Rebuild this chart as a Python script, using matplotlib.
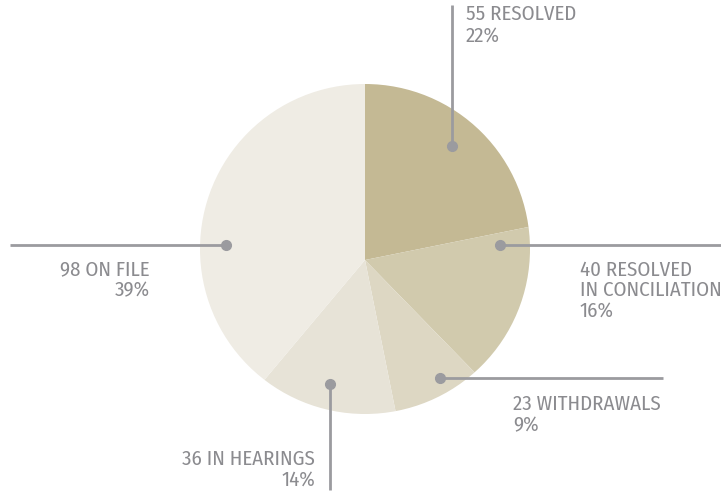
import matplotlib
matplotlib.use("Agg")
import matplotlib.pyplot as plt
from matplotlib.patches import Circle

categories = ["RESOLVED", "RESOLVED\nIN CONCILIATION", "WITHDRAWALS", "IN HEARINGS", "ON FILE"]
values = [55, 40, 23, 36, 98]
colors = ["#C4B994", "#D1CAAD", "#DDD7C3", "#E7E3D7", "#EFECE4"]

W, H = 721, 494
fig = plt.figure(figsize=(W / 100, H / 100), dpi=100)
ax = fig.add_axes([0, 0, 1, 1])

# wedges radiate from an apex slightly below the circle's centre
cx, cy, R = 365, H - 249, 165
apex = (365, H - 260)
wedges, _ = ax.pie(values, colors=colors, startangle=90, counterclock=False,
                   center=apex, radius=R + 30, frame=True,
                   wedgeprops=dict(linewidth=0))
ax.set_xlim(0, W)
ax.set_ylim(0, H)
ax.set_aspect("equal")
ax.axis("off")
clip = Circle((cx, cy), R, transform=ax.transData)
for w in wedges:
    w.set_clip_on(True)
    w.set_clip_path(clip)

fam = ["Fira Sans Condensed", "DejaVu Sans"]
tcol = "#8B8B8F"
lcol = "#9B9B9F"
total = sum(values)

# leader: dot (px), end (px), text anchor (px), ha
leaders = [
    ((452, 146), (452, 5), (466, 5), "left"),
    ((500, 245), (721, 245), (580, 260), "left"),
    ((440, 378), (663, 378), (513, 395), "left"),
    ((330, 384), (330, 490), (315, 449), "right"),
    ((226, 245), (10, 245), (150, 260), "right"),
]

for v, name, (d, e, t, ha) in zip(values, categories, leaders):
    ax.plot([d[0], e[0]], [H - d[1], H - e[1]], color=lcol, lw=2, solid_capstyle="butt")
    ax.plot([d[0]], [H - d[1]], "o", color=lcol, ms=7)
    pct = round(v / total * 100)
    ax.text(t[0], H - t[1], f"{v} {name}\n{pct}%", ha=ha, va="top",
            fontsize=15, color=tcol, family=fam, linespacing=1.08,
            multialignment=ha)

fig.savefig("out.png", dpi=100)
